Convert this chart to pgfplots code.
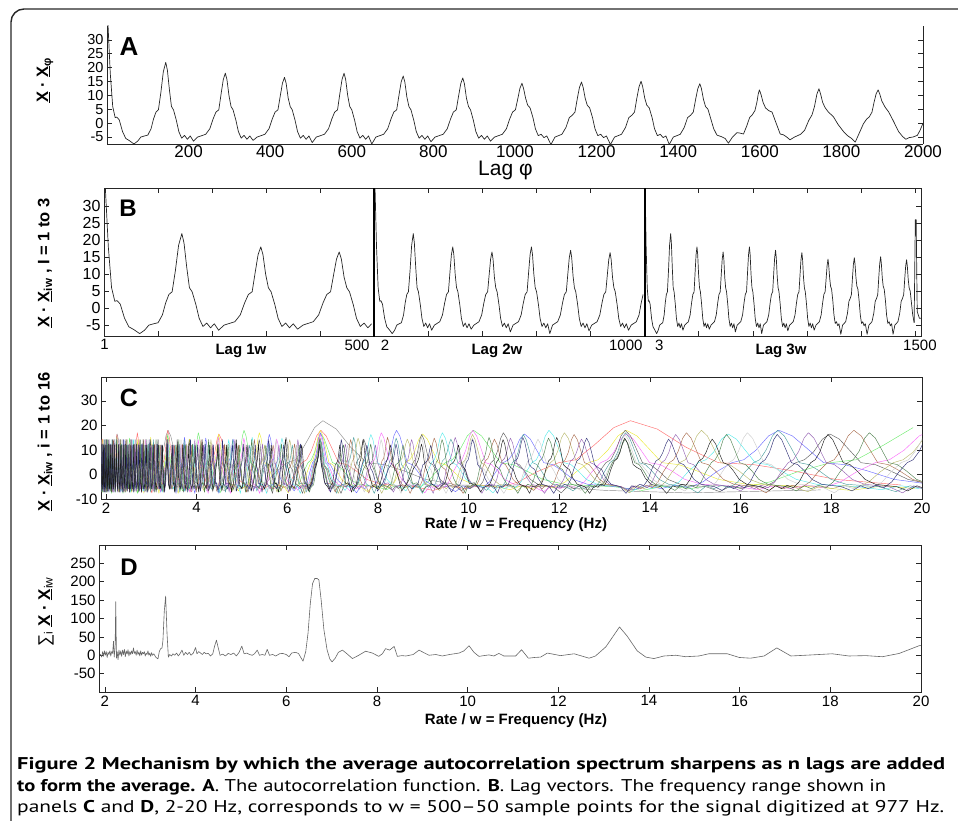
\documentclass[border=0pt]{standalone}
\usepackage{fontspec}
\setmainfont{Liberation Sans}
\newfontfamily\capfont{PT Sans}
\usepackage{graphicx}
\usepackage{pgfplots}
\usepackage{pgfplotstable}
\pgfplotsset{compat=1.18}

\pgfplotstableread{
lag val
1 40
8 18
14 6
20 2
24 2.2
30 1.2
38 -3
46 -5.5
55 -6.3
66 -7.5
75 -6.5
83 -5
92 -4.6
100 -4.3
108 -2
114 1.5
120 4
126 4.8
132 11
138 18.5
144 21.9
148 19.1
153 12.0
158 6
163 4.8
170 1
176 -3
183 -5.4
190 -4.4
197 -5.8
204 -4.6
212 -6.5
222 -5
242 -4
252 -2
260 1.5
267 4
274 4.8
280 10.9
285 15.7
290 18.0
294 15.7
299 9.9
304 6
309 4.8
316 1
322 -3
329 -5.4
336 -4.4
343 -5.8
350 -4.6
358 -6.2
368 -5
387 -4
397 -2
405 1.5
412 4
419 4.8
425 10.1
430 14.4
435 16.5
439 14.4
444 9.1
449 6
454 4.8
461 1
467 -3
474 -5.4
481 -4.4
488 -5.8
495 -4.6
503 -7
513 -5
533 -4
543 -2
551 1.5
558 4
565 4.8
571 10.9
576 15.7
581 18
585 15.7
590 9.9
595 6
600 4.8
607 1
613 -3
620 -5.4
627 -4.4
634 -5.8
641 -4.6
649 -7.5
659 -5
678 -4
688 -2
696 1.5
703 4
710 4.8
716 10.4
721 14.8
726 17
730 14.8
735 9.4
740 6
745 4.8
752 1
758 -3
765 -5.4
772 -4.4
779 -5.8
786 -4.6
794 -6.7
804 -5
824 -4
834 -2
842 1.5
849 4
856 4.8
862 10.0
867 14.2
872 16.3
876 14.2
881 9.0
886 6
891 4.8
898 1
904 -3
911 -5.4
918 -4.4
925 -5.8
932 -4.6
940 -6.5
950 -5
969 -4
979 -2
987 1.5
994 4
1001 4.8
1007 8.9
1012 12.5
1017 14.4
1021 12.5
1026 9
1031 6.5
1037 5.5
1044 2
1050 -2
1057 -4.5
1064 -4
1071 -5.2
1078 -4.6
1088 -7.7
1098 -5
1115 -4
1125 -1.5
1133 2
1140 2.8
1147 4
1153 9.1
1158 12.9
1163 14.8
1167 12.9
1172 9
1177 6.5
1183 5.5
1190 2
1196 -2
1203 -4.5
1210 -4
1217 -5.2
1224 -4.6
1234 -7.7
1244 -5
1261 -4
1271 -1.5
1279 2
1286 2.8
1293 4
1299 9.3
1304 13.1
1309 15.1
1313 13.1
1318 9
1323 6.5
1329 5.5
1336 2
1342 -2
1349 -4.5
1356 -4
1363 -5.2
1370 -4.6
1378 -7.7
1388 -5
1405 -4
1415 -1.5
}\Aone

\pgfplotstableread{
lag val
1415 -1.5
1423 2
1430 2.8
1437 4
1443 8.8
1448 12.4
1453 14.2
1457 12.4
1462 8.5
1467 6
1473 5
1480 1.5
1487 -2
1495 -4.3
1505 -4.8
1515 -5.5
1523 -7.2
1533 -5
1544 -3.4
1552 -3.6
1560 -3.9
1568 -1
1575 2
1581 2.9
1588 4.5
1593 7.6
1596 10.4
1599 12
1603 10.3
1608 7.5
1614 5.5
1622 4.5
1630 4
1640 0
1650 -3.9
1658 -4.2
1666 -5
1674 -6
1685 -5
1700 -4
1710 -2.5
1720 1
1728 3
1734 6
1740 10.5
1745 12.4
1749 10.5
1754 7.5
1760 5.6
1768 4
1780 2.4
1792 -0.5
1805 -3
1815 -4.5
1825 -5.5
1834 -6.8
1844 -3.5
1854 -0.2
1862 1.5
1868 2.2
1875 4
1880 7.5
1885 10.5
1890 12
1894 10.5
1899 8
1907 5.8
1916 4
1927 0.9
1940 -3
1950 -4.8
1958 -5.8
1966 -5.2
1975 -5
1986 -4.4
1993 -2.5
2000 0
}\Atwo

\pgfplotstableread{
f s
1.90 3
1.93 -5
1.95 10
1.97 -3
1.99 12
2.01 0
2.03 10
2.05 -6
2.07 8
2.09 2
2.11 12
2.13 -2
2.15 10
2.17 5
2.19 38
2.205 -5
2.225 20
2.24 146
2.255 -8
2.27 10
2.29 -12
2.31 14
2.33 0
2.35 12
2.37 -3
2.39 14
2.41 2
2.43 16
2.45 -4
2.47 12
2.49 3
2.51 15
2.53 -2
2.55 10
2.57 2
2.59 12
2.61 4
2.63 20
2.65 5
2.67 10
2.69 0
2.71 14
2.73 2
2.75 9
2.77 -2
2.79 12
2.81 0
2.83 8
2.85 4
2.87 10
2.89 -2
2.91 6
2.93 2
2.95 12
2.97 0
2.99 6
3.01 -3
3.03 7
3.05 0
3.08 4
3.12 -5
3.17 -10
3.20 10
3.23 18
3.26 20
3.28 40
3.31 120
3.34 161
3.37 60
3.40 -5
3.43 2
3.47 -2
3.50 4
3.54 0
3.58 6
3.62 -2
3.66 5
3.70 14
3.74 0
3.78 8
3.82 2
3.86 8
3.90 0
3.95 6
4.00 21
4.03 4
4.07 10
4.11 6
4.15 2
4.19 8
4.23 4
4.28 5
4.33 -2
4.38 4
4.42 25
4.46 41
4.50 20
4.54 0
4.60 3
4.66 -2
4.72 5
4.78 2
4.84 6
4.90 -2
4.96 8
5.02 25
5.07 4
5.13 6
5.19 2
5.25 0
5.30 4
5.36 14
5.41 0
5.47 2
5.53 0
5.58 16
5.63 0
5.70 2
5.77 -2
5.85 4
5.92 5
6.00 2
6.06 -4
6.12 6
6.20 8
6.27 5
6.33 -8
6.37 -16
6.43 10
6.48 60
6.53 140
6.58 195
6.63 209
6.68 209
6.72 205
6.77 150
6.83 70
6.90 15
6.96 -10
7.01 -18
7.08 -8
7.15 8
7.24 14
7.33 5
7.46 -9
7.60 0
7.75 11
7.90 6
8.04 -3
8.12 4
8.19 18
8.28 14
8.38 24
8.45 -3
8.55 -1
8.64 -2
8.80 2
8.93 14
9.05 6
9.15 0
9.30 2
9.44 -2
9.60 2
9.81 6
9.92 12
10.03 26
10.14 8
10.25 -3
10.36 -1
10.47 1
10.58 -2
10.69 5
10.80 -2
11.06 -2
11.19 15
11.34 -8
11.48 -6
11.61 -5
11.76 6
12.05 -1
12.35 4
12.68 -8
12.82 -2
13.05 23
13.20 50
13.35 77
13.52 52
13.74 12
13.93 -5
14.11 -9
14.33 -2
14.59 0
14.81 -4
15.10 -2
15.32 4
15.73 4
15.99 -6
16.24 -8
16.54 -2
16.82 20
17.13 -2
17.60 1
18.04 4
18.41 -2
18.78 -1
19.15 -4
19.52 5
19.96 26
20.00 27
}\Dsum

\definecolor{c1}{RGB}{140,140,140}
\definecolor{c2}{RGB}{255,110,110}
\definecolor{c3}{RGB}{110,235,110}
\definecolor{c4}{RGB}{235,235,60}
\definecolor{c5}{RGB}{110,110,255}
\definecolor{c6}{RGB}{250,110,250}
\definecolor{c7}{RGB}{90,235,235}
\definecolor{c8}{RGB}{95,95,95}
\definecolor{c9}{RGB}{185,185,110}
\definecolor{c10}{RGB}{80,160,160}
\definecolor{c11}{RGB}{170,110,80}
\definecolor{c12}{RGB}{205,205,205}
\definecolor{c13}{RGB}{150,100,180}
\definecolor{c14}{RGB}{80,130,80}
\definecolor{c15}{RGB}{50,50,120}
\definecolor{c16}{RGB}{30,30,30}

\pgfplotsset{
  panel/.style={
    scale only axis, anchor=south west, tick align=inside,
    axis line style={line width=0.7pt, black!85},
    major tick length=5pt,
    tick style={black!85, line width=0.6pt},
    ticklabel style={font=\fontsize{15}{15}\selectfont},
    /pgf/number format/assume math mode=true,
    /pgf/number format/1000 sep={},
    enlargelimits=false,
  },
  sig/.style={black!85, line width=0.7pt, line join=round},
  cl/.style={line width=0.45pt, line join=round, restrict x to domain=1.8:20.3},
}

\begin{document}
\begin{tikzpicture}
\useasboundingbox (0pt,0pt) rectangle (958pt,-821pt);
\draw[line width=1.4pt, black!85, rounded corners=13pt] (11pt,-1000pt) -- (11pt,-9pt) -- (1100pt,-9pt);

% ---------- A ----------
\begin{axis}[panel, at={(107pt,-144pt)}, width=816pt, height=118pt,
  xmin=0, xmax=2000, ymin=-7.5, ymax=35,
  axis x line*=bottom, axis y line*=box,
  xtick={200,400,...,2000}, ytick={-5,0,...,30},
  xtick style={draw=none},
  xticklabel style={font=\fontsize{17}{17}\selectfont, yshift=2pt},
  yticklabel style={font=\fontsize{14.5}{14.5}\selectfont, inner ysep=0.5pt}]
\addplot[sig] table[x index=0, y index=1] {\Aone};
\addplot[sig] table[x index=0, y index=1] {\Atwo};
\end{axis}

% ---------- B ----------
\begin{axis}[panel, at={(104pt,-336pt)}, width=817pt, height=148pt,
  xmin=0, xmax=1511, ymin=-8.2, ymax=35.3,
  xtick={0,100,...,1500}, xticklabels={},
  ytick={-5,0,...,30},
  yticklabel style={font=\fontsize{16}{16}\selectfont},
  extra x ticks={1,468,520,965,1027,1509},
  extra x tick labels={1,500,2,1000,3,1500},
  extra x tick style={major tick length=0pt}]
\addplot[sig, restrict x to domain=0:499.5] table[x index=0, y index=1] {\Aone};
\addplot[sig, restrict x to domain=500.2:999.5] table[x expr={500+\thisrowno{0}/2}, y index=1] {\Aone};
\addplot[sig, restrict x to domain=1000.2:1500] table[x expr={1000+\thisrowno{0}/3}, y index=1] {\Aone};
\addplot[sig, restrict x to domain=1000.2:1500] table[x expr={1000+\thisrowno{0}/3}, y index=1] {\Atwo};
\addplot[black, line width=1.8pt] coordinates {(500,-9) (500,36)};
\addplot[black, line width=1.8pt] coordinates {(1000,-9) (1000,36)};
\addplot[sig] coordinates {(1498.3,-4.3) (1500.5,26) (1502,26) (1504,-1) (1508,-3) (1511,-3)};
\end{axis}

% ---------- C ----------
\begin{axis}[panel, at={(101pt,-499pt)}, width=821pt, height=122pt,
  xmin=1.89, xmax=20, ymin=-10, ymax=39.7,
  xtick={2,4,...,20}, ytick={-10,0,...,30}]
\pgfplotsinvokeforeach{1,...,16}{
  \addplot[cl, c#1] table[x expr={#1*977/\thisrowno{0}}, y index=1] {\Aone};}
\pgfplotsinvokeforeach{3,...,16}{
  \addplot[cl, c#1] table[x expr={#1*977/\thisrowno{0}}, y index=1] {\Atwo};}
\pgfplotsinvokeforeach{4,...,16}{
  \addplot[cl, c#1] table[x expr={#1*977/(\thisrowno{0}+585)}, y index=1] {\Atwo};}
\pgfplotsinvokeforeach{5,...,16}{
  \addplot[cl, c#1] table[x expr={#1*977/(\thisrowno{0}+1170)}, y index=1] {\Atwo};}
\pgfplotsinvokeforeach{7,...,16}{
  \addplot[cl, c#1] table[x expr={#1*977/(\thisrowno{0}+1755)}, y index=1] {\Atwo};}
\pgfplotsinvokeforeach{8,...,16}{
  \addplot[cl, c#1] table[x expr={#1*977/(\thisrowno{0}+2340)}, y index=1] {\Atwo};}
\pgfplotsinvokeforeach{9,...,16}{
  \addplot[cl, c#1] table[x expr={#1*977/(\thisrowno{0}+2925)}, y index=1] {\Atwo};}
\pgfplotsinvokeforeach{10,...,16}{
  \addplot[cl, c#1] table[x expr={#1*977/(\thisrowno{0}+3510)}, y index=1] {\Atwo};}
\pgfplotsinvokeforeach{11,...,16}{
  \addplot[cl, c#1] table[x expr={#1*977/(\thisrowno{0}+4095)}, y index=1] {\Atwo};}
\pgfplotsinvokeforeach{12,...,16}{
  \addplot[cl, c#1] table[x expr={#1*977/(\thisrowno{0}+4680)}, y index=1] {\Atwo};}
\pgfplotsinvokeforeach{13,...,16}{
  \addplot[cl, c#1] table[x expr={#1*977/(\thisrowno{0}+5265)}, y index=1] {\Atwo};}
\pgfplotsinvokeforeach{15,16}{
  \addplot[cl, c#1] table[x expr={#1*977/(\thisrowno{0}+5850)}, y index=1] {\Atwo};}
\pgfplotsinvokeforeach{16}{
  \addplot[cl, c#1] table[x expr={#1*977/(\thisrowno{0}+6435)}, y index=1] {\Atwo};}
\end{axis}

% ---------- D ----------
\begin{axis}[panel, at={(99pt,-692pt)}, width=822pt, height=147pt,
  xmin=1.87, xmax=20, ymin=-100, ymax=300,
  xtick={2,4,...,20}, ytick={-50,0,...,250}]
\addplot[black!60, line width=0.6pt, line join=round] table[x index=0, y index=1] {\Dsum};
\end{axis}

% ---------- texts ----------
\node[font=\bfseries\fontsize{26}{26}\selectfont] at (129pt,-47pt) {A};
\node[font=\bfseries\fontsize{24}{24}\selectfont] at (128pt,-208pt) {B};
\node[font=\bfseries\fontsize{25}{25}\selectfont] at (129pt,-398pt) {C};
\node[font=\bfseries\fontsize{24}{24}\selectfont] at (129pt,-567pt) {D};

\node[font=\fontsize{21}{21}\selectfont, anchor=base west, inner sep=0pt] at (478pt,-176pt) {Lag φ};

\node[font=\bfseries\fontsize{15}{15}\selectfont] at (241pt,-351pt) {Lag 1w};
\node[font=\bfseries\fontsize{15}{15}\selectfont] at (497pt,-351pt) {Lag 2w};
\node[font=\bfseries\fontsize{15}{15}\selectfont] at (781pt,-351pt) {Lag 3w};

\node[font=\bfseries\fontsize{15}{15}\selectfont] at (516pt,-525pt) {Rate / w = Frequency (Hz)};
\node[font=\bfseries\fontsize{15}{15}\selectfont] at (516pt,-721pt) {Rate / w = Frequency (Hz)};

\node[rotate=90, font=\bfseries\fontsize{16.5}{16.5}\selectfont] at (45pt,-80pt) {\underline{X} · \underline{X}\textsubscript{φ}};
\node[rotate=90, font=\bfseries\fontsize{16.5}{16.5}\selectfont] at (45pt,-263pt) {\underline{X} · \underline{X}\textsubscript{iw} , I = 1 to 3};
\node[rotate=90, font=\bfseries\fontsize{16.5}{16.5}\selectfont] at (45pt,-442pt) {\underline{X} · \underline{X}\textsubscript{iw} , i = 1 to 16};
\node[rotate=90, font=\fontsize{17}{17}\selectfont] at (46pt,-612pt) {∑\textsubscript{i} \textbf{\underline{X} · \underline{X}}\textsubscript{iw}};

% ---------- caption ----------
\node[anchor=base west, inner sep=0pt] at (17pt,-769pt) {\resizebox{928pt}{\height}{\capfont\fontsize{17}{17}\selectfont\textbf{Figure 2 Mechanism by which the average autocorrelation spectrum sharpens as n lags are added}}};
\node[anchor=base west, inner sep=0pt] at (17pt,-791pt) {\resizebox{869pt}{\height}{\capfont\fontsize{17}{17}\selectfont\textbf{to form the average. A}. The autocorrelation function. \textbf{B}. Lag vectors. The frequency range shown in}};
\node[anchor=base west, inner sep=0pt] at (17pt,-812pt) {\resizebox{927pt}{\height}{\capfont\fontsize{17}{17}\selectfont panels \textbf{C} and \textbf{D}, 2-20 Hz, corresponds to w = 500–50 sample points for the signal digitized at 977 Hz.}};
\end{tikzpicture}
\end{document}
